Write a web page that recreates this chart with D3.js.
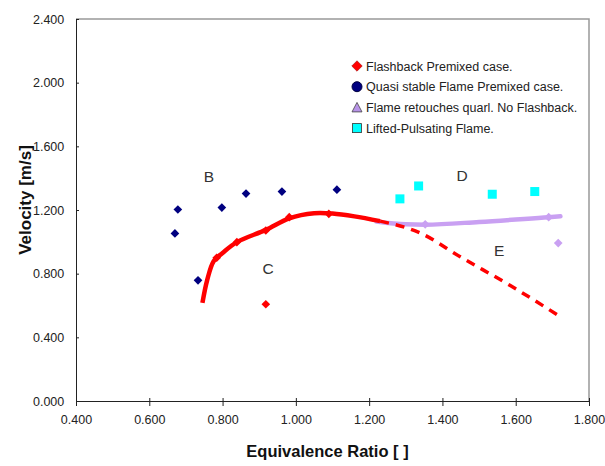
<!DOCTYPE html>
<html>
<head>
<meta charset="utf-8">
<script src="https://cdn.jsdelivr.net/npm/d3@7"></script>
<style>
  body { margin: 0; background: #fff; }
  svg { font-family: "Liberation Sans", Arial, sans-serif; }
  .axis text { font-size: 12.5px; fill: #222; }
  .axis path, .axis line { stroke: #222; }
</style>
</head>
<body>
<div id="chart"></div>
<script>
// data
var flashback = [[0.784, 0.900], [0.839, 0.998], [0.918, 1.071], [0.982, 1.155], [1.090, 1.176], [0.918, 0.608]];
var quasiStable = [[0.670, 1.053], [0.678, 1.203], [0.733, 0.758], [0.798, 1.215], [0.864, 1.303], [0.962, 1.316], [1.112, 1.328]];
var retouches = [[1.353, 1.110], [1.690, 1.155], [1.716, 0.992]];
var lifted = [[1.284, 1.270], [1.335, 1.351], [1.536, 1.299], [1.652, 1.316]];

var redSolid = [[0.745, 0.616], [0.758, 0.760], [0.776, 0.880], [0.800, 0.930], [0.839, 0.998], [0.918, 1.075], [0.982, 1.148], [1.05, 1.180], [1.10, 1.178], [1.16, 1.160], [1.23, 1.130]];
var redDashed = [[1.23, 1.130], [1.34, 1.055], [1.45, 0.904], [1.584, 0.727], [1.725, 0.525]];
var purpleLine = [[1.22, 1.128], [1.30, 1.110], [1.353, 1.108], [1.50, 1.125], [1.690, 1.155], [1.722, 1.160]];

var zoneLabels = [['B', 0.763, 1.41], ['C', 0.924, 0.833], ['D', 1.454, 1.416], ['E', 1.555, 0.946]];

var legendNames = ['Flashback Premixed case.', 'Quasi stable Flame Premixed case.', 'Flame retouches quarl. No Flashback.', 'Lifted-Pulsating Flame.'];

var xTicks = [0.4, 0.6, 0.8, 1.0, 1.2, 1.4, 1.6, 1.8];
var yTicks = [0, 0.4, 0.8, 1.2, 1.6, 2.0, 2.4];

var W = 605, H = 466;
var margin = {top: 19, right: 16, bottom: 65, left: 76};
var width = W - margin.left - margin.right,
    height = H - margin.top - margin.bottom;

var x = d3.scaleLinear().domain([0.4, 1.8]).range([0, width]);
var y = d3.scaleLinear().domain([0, 2.4]).range([height, 0]);

var svg = d3.select('#chart').append('svg')
  .attr('width', W).attr('height', H)
  .append('g')
  .attr('transform', 'translate(' + margin.left + ',' + margin.top + ')');

// top and right frame
svg.append('path')
  .attr('d', 'M0,0H' + width + 'V' + height)
  .attr('fill', 'none').attr('stroke', '#999').attr('stroke-width', 1.5);

var fmt = d3.format('.3f');
svg.append('g').attr('class', 'axis')
  .attr('transform', 'translate(0,' + height + ')')
  .call(d3.axisBottom(x).tickValues(xTicks).tickFormat(fmt).tickSize(5).tickSizeOuter(0))
  .call(function(g) { g.selectAll('line').attr('y1', -3); g.selectAll('text').attr('dy', '1.2em'); });

svg.append('g').attr('class', 'axis')
  .call(d3.axisLeft(y).tickValues(yTicks).tickFormat(fmt).tickSize(5).tickSizeOuter(0))
  .call(function(g) { g.selectAll('line').attr('x2', 3); g.selectAll('text').attr('dx', '-0.3em'); });

svg.append('text')
  .attr('x', width / 2 - 5).attr('y', height + 56)
  .attr('text-anchor', 'middle')
  .style('font-size', '16.5px').style('font-weight', 'bold').attr('fill', '#111')
  .text('Equivalence Ratio [ ]');

svg.append('text')
  .attr('transform', 'translate(' + (-45) + ',' + (height / 2 - 10) + ') rotate(-90)')
  .attr('text-anchor', 'middle')
  .style('font-size', '17px').style('font-weight', 'bold').attr('fill', '#111')
  .text('Velocity [m/s]');

// lines
var line = d3.line()
  .x(function(d) { return x(d[0]); })
  .y(function(d) { return y(d[1]); })
  .curve(d3.curveMonotoneX);

svg.append('path').datum(purpleLine)
  .attr('d', line).attr('fill', 'none')
  .attr('stroke', '#c9a0f2').attr('stroke-width', 4.5).attr('stroke-linecap', 'round');

svg.append('path').datum(redDashed)
  .attr('d', line).attr('fill', 'none')
  .attr('stroke', '#ff0000').attr('stroke-width', 3.5).attr('stroke-dasharray', '9,7');

svg.append('path').datum(redSolid)
  .attr('d', line.curve(d3.curveCatmullRom.alpha(0.5))).attr('fill', 'none')
  .attr('stroke', '#ff0000').attr('stroke-width', 4.5).attr('stroke-linejoin', 'round');

// markers
var diamond = d3.symbol().type(d3.symbolDiamond2).size(48);
function drawPoints(data, color) {
  svg.selectAll(null).data(data).enter().append('path')
    .attr('d', diamond)
    .attr('transform', function(d) { return 'translate(' + x(d[0]) + ',' + y(d[1]) + ')'; })
    .attr('fill', color);
}
drawPoints(flashback, '#ff0000');
drawPoints(quasiStable, '#000080');
drawPoints(retouches, '#c9a0f2');

svg.selectAll('.sq').data(lifted).enter().append('rect')
  .attr('class', 'sq')
  .attr('x', function(d) { return x(d[0]) - 4.5; })
  .attr('y', function(d) { return y(d[1]) - 4.5; })
  .attr('width', 9).attr('height', 9)
  .attr('fill', '#00ffff');

// zone letters
svg.selectAll('.zone').data(zoneLabels).enter().append('text')
  .attr('x', function(d) { return x(d[1]); })
  .attr('y', function(d) { return y(d[2]); })
  .attr('dy', '0.36em').attr('text-anchor', 'middle')
  .style('font-size', '15.5px').attr('fill', '#333')
  .text(function(d) { return d[0]; });

// legend
var leg = svg.append('g').attr('transform', 'translate(281,47)');
var legColors = ['#ff0000', '#000080', '#b894e8', '#00ffff'];
legendNames.forEach(function(name, i) {
  var g = leg.append('g').attr('transform', 'translate(0,' + (i * 20.7) + ')');
  if (i === 0) {
    g.append('path').attr('d', d3.symbol().type(d3.symbolDiamond2).size(70)).attr('fill', legColors[0]).attr('stroke', '#800').attr('stroke-width', 0.5);
  } else if (i === 1) {
    g.append('circle').attr('r', 5).attr('fill', legColors[1]).attr('stroke', '#000040');
  } else if (i === 2) {
    g.append('path').attr('d', 'M0,-5L5,4.5H-5Z').attr('fill', legColors[2]).attr('stroke', '#444').attr('stroke-width', 0.8);
  } else {
    g.append('rect').attr('x', -4.5).attr('y', -4.5).attr('width', 9).attr('height', 9).attr('fill', legColors[3]).attr('stroke', '#333').attr('stroke-width', 0.8);
  }
  g.append('text').attr('x', 9).attr('dy', '0.36em')
    .style('font-size', '12.5px').attr('fill', '#222')
    .text(name);
});
</script>
</body>
</html>
